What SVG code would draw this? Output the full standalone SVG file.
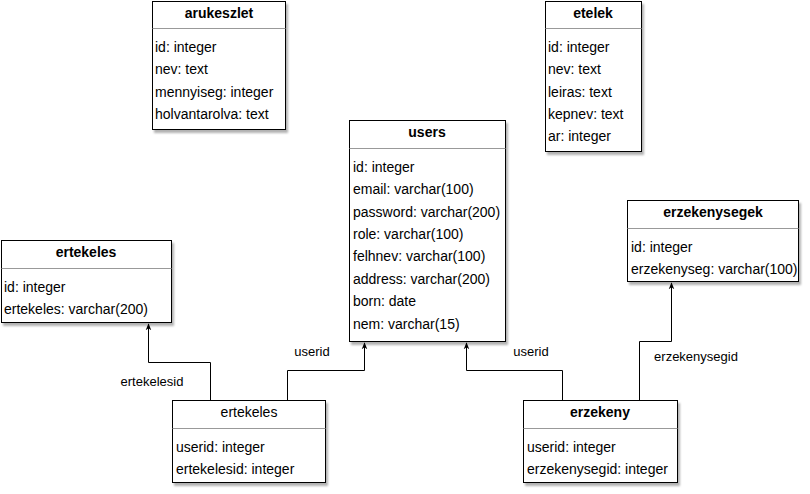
<svg xmlns="http://www.w3.org/2000/svg" width="810" height="494" viewBox="0 0 810 494">
<style>
.box{fill:#fff;stroke:#000;stroke-width:1;filter:url(#sh)}
.sep{stroke:#999;stroke-width:1}
text{font-family:"Liberation Sans",Arial,sans-serif;font-size:14px;fill:#000}
.t{font-weight:bold;text-anchor:middle}
.tn{text-anchor:middle}
.c{fill:none;stroke:#000;stroke-width:1}
.lb{text-anchor:middle;font-size:13px}
</style>
<defs>
<filter id="sh" x="-10%" y="-10%" width="130%" height="130%">
<feDropShadow dx="2" dy="3" stdDeviation="1.2" flood-color="#000" flood-opacity="0.3"/>
</filter>
<marker id="ar" viewBox="0 0 10 10" refX="9" refY="5" markerWidth="7" markerHeight="7" orient="auto">
<path d="M0,1 L10,5 L0,9 L3,5 Z" fill="#000"/>
</marker>
</defs>
<g id="connectors">
<path class="c" d="M210.5,400 V362.5 H148.5 V324" marker-end="url(#ar)"/>
<path class="c" d="M287.5,400 V370.5 H364.5 V343" marker-end="url(#ar)"/>
<path class="c" d="M562.5,400 V370.5 H466.5 V343" marker-end="url(#ar)"/>
<path class="c" d="M639.5,400 V341.5 H671.5 V283" marker-end="url(#ar)"/>
<rect x="117" y="373" width="70" height="16" fill="#fff"/>
<text class="lb" x="152" y="386">ertekelesid</text>
<rect x="290" y="343" width="44" height="16" fill="#fff"/>
<text class="lb" x="312" y="356">userid</text>
<rect x="509" y="343" width="44" height="16" fill="#fff"/>
<text class="lb" x="531" y="356">userid</text>
<rect x="652" y="348" width="88" height="16" fill="#fff"/>
<text class="lb" x="696" y="361">erzekenysegid</text>
</g>
<g id="arukeszlet">
<rect class="box" x="152.5" y="1.5" width="133" height="128"/>
<line class="sep" x1="152.5" y1="28.5" x2="285.5" y2="28.5"/>
<text class="t" x="219" y="18">arukeszlet</text>
<text x="155" y="52">id: integer</text>
<text x="155" y="74">nev: text</text>
<text x="155" y="97">mennyiseg: integer</text>
<text x="155" y="119">holvantarolva: text</text>
</g>
<g id="etelek">
<rect class="box" x="545.5" y="1.5" width="96" height="150"/>
<line class="sep" x1="545.5" y1="28.5" x2="641.5" y2="28.5"/>
<text class="t" x="593" y="18">etelek</text>
<text x="548" y="52">id: integer</text>
<text x="548" y="74">nev: text</text>
<text x="548" y="97">leiras: text</text>
<text x="548" y="119">kepnev: text</text>
<text x="548" y="141">ar: integer</text>
</g>
<g id="users">
<rect class="box" x="349.5" y="120.5" width="156" height="221"/>
<line class="sep" x1="349.5" y1="148.5" x2="505.5" y2="148.5"/>
<text class="t" x="427" y="137">users</text>
<text x="353" y="172">id: integer</text>
<text x="353" y="194">email: varchar(100)</text>
<text x="353" y="217">password: varchar(200)</text>
<text x="353" y="239">role: varchar(100)</text>
<text x="353" y="261">felhnev: varchar(100)</text>
<text x="353" y="284">address: varchar(200)</text>
<text x="353" y="306">born: date</text>
<text x="353" y="329">nem: varchar(15)</text>
</g>
<g id="ertekeles-table">
<rect class="box" x="1.5" y="240.5" width="170" height="82"/>
<line class="sep" x1="1.5" y1="268.5" x2="171.5" y2="268.5"/>
<text class="t" x="86" y="257">ertekeles</text>
<text x="4" y="292">id: integer</text>
<text x="4" y="314">ertekeles: varchar(200)</text>
</g>
<g id="erzekenysegek">
<rect class="box" x="627.5" y="200.5" width="171" height="81"/>
<line class="sep" x1="627.5" y1="228.5" x2="798.5" y2="228.5"/>
<text class="t" x="713" y="217">erzekenysegek</text>
<text x="631" y="252">id: integer</text>
<text x="631" y="274">erzekenyseg: varchar(100)</text>
</g>
<g id="ertekeles-link">
<rect class="box" x="172.5" y="400.5" width="153" height="82"/>
<line class="sep" x1="172.5" y1="428.5" x2="325.5" y2="428.5"/>
<text class="tn" x="249" y="417">ertekeles</text>
<text x="176" y="452">userid: integer</text>
<text x="176" y="474">ertekelesid: integer</text>
</g>
<g id="erzekeny">
<rect class="box" x="523.5" y="400.5" width="154" height="82"/>
<line class="sep" x1="523.5" y1="428.5" x2="677.5" y2="428.5"/>
<text class="t" x="600" y="417">erzekeny</text>
<text x="527" y="452">userid: integer</text>
<text x="527" y="474">erzekenysegid: integer</text>
</g>
</svg>
